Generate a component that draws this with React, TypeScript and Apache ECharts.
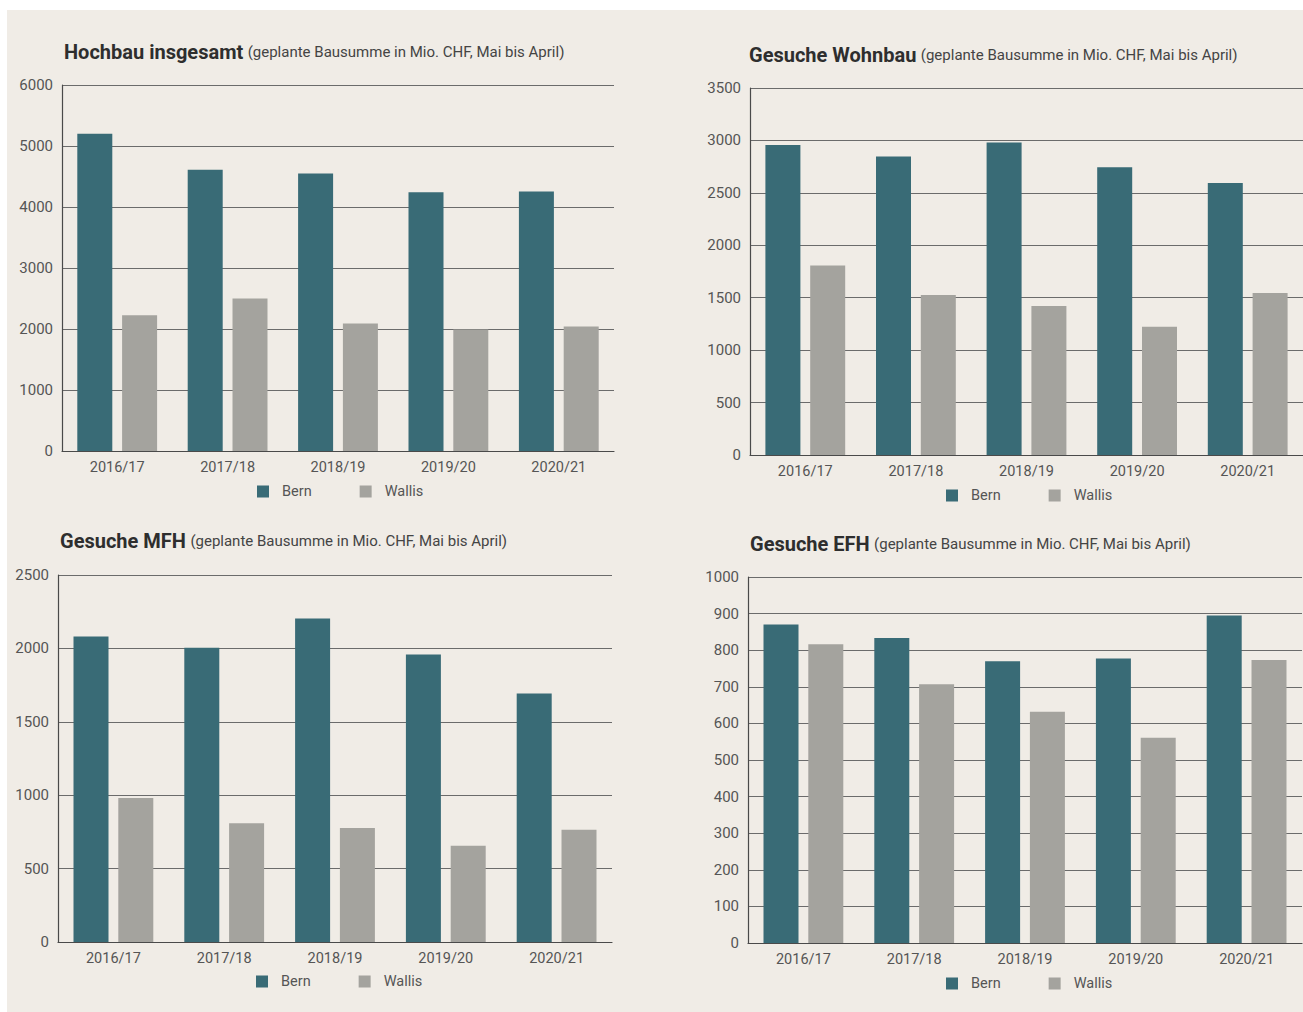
import React, { useEffect, useRef } from "react";
import * as echarts from "echarts";

const categories = ["2016/17", "2017/18", "2018/19", "2019/20", "2020/21"];
const seriesNames = ["Bern", "Wallis"];

const hochbauBern = [5200, 4610, 4550, 4240, 4255];
const hochbauWallis = [2225, 2500, 2090, 1990, 2040];
const wohnbauBern = [2957, 2846, 2980, 2745, 2595];
const wohnbauWallis = [1807, 1525, 1420, 1223, 1544];
const mfhBern = [2081, 2004, 2203, 1958, 1693];
const mfhWallis = [981, 809, 777, 655, 764];
const efhBern = [870, 833, 770, 777, 895];
const efhWallis = [816, 707, 632, 561, 773];

const boldTitles = ["Hochbau insgesamt", "Gesuche Wohnbau", "Gesuche MFH", "Gesuche EFH"];
const subTitle = "(geplante Bausumme in Mio. CHF, Mai bis April)";
const yMax = [6000, 3500, 2500, 1000];
const yInterval = [1000, 500, 500, 100];

const FONT = "Roboto, 'Liberation Sans', sans-serif";
const BERN = "#396b76";
const WALLIS = "#a4a39e";
const BG = "#f0ece6";

// panel layout: grid left, top, width, height; title pos; legend pos
const panels = [
  { left: 62, top: 85, width: 552, height: 366, tx: 64, ty: 42, lx: 257, ly: 484 },
  { left: 750, top: 88, width: 553, height: 367, tx: 749, ty: 45, lx: 946, ly: 488 },
  { left: 58, top: 575, width: 554, height: 367, tx: 60, ty: 531, lx: 256, ly: 974 },
  { left: 748, top: 577, width: 554, height: 366, tx: 750, ty: 534, lx: 946, ly: 976 },
];

const data = [
  [hochbauBern, hochbauWallis],
  [wohnbauBern, wohnbauWallis],
  [mfhBern, mfhWallis],
  [efhBern, efhWallis],
];

export default function App() {
  const ref = useRef<HTMLDivElement>(null);
  useEffect(() => {
    if (!ref.current) return;
    const chart = echarts.init(ref.current, undefined, { renderer: "svg" });
    const option: any = {
      animation: false,
      backgroundColor: "#ffffff",
      textStyle: { fontFamily: FONT },
      graphic: [
        { type: "rect", z: -10, silent: true, shape: { x: 7, y: 10, width: 1296, height: 1002 }, style: { fill: BG } },
      ],
      title: panels.map((p, i) => ({
        left: p.tx,
        top: p.ty,
        padding: 0,
        text: `{b|${boldTitles[i]}} {r|${subTitle}}`,
        textStyle: {
          fontFamily: FONT,
          rich: {
            b: { fontFamily: FONT, fontWeight: "bold", fontSize: 20, color: "#2e2e2e" },
            r: { fontFamily: FONT, fontWeight: "normal", fontSize: 15, color: "#444" },
          },
        },
      })),
      legend: panels.map((p) => ({
        left: p.lx,
        top: p.ly,
        padding: 0,
        data: seriesNames,
        icon: "rect",
        itemWidth: 12,
        itemHeight: 12,
        itemGap: 48,
        selectedMode: false,
        textStyle: { fontFamily: FONT, fontSize: 14.5, color: "#555", padding: [0, 0, 0, 8] },
      })),
      grid: panels.map((p) => ({ left: p.left, top: p.top, width: p.width, height: p.height, containLabel: false })),
      xAxis: panels.map((p, i) => ({
        type: "category",
        gridIndex: i,
        data: categories,
        axisTick: { show: false },
        axisLine: { show: true, lineStyle: { color: "#4a4a4a", width: 1.2 } },
        axisLabel: { fontFamily: FONT, fontSize: 14.5, color: "#555", margin: 9 },
      })),
      yAxis: panels.map((p, i) => ({
        type: "value",
        gridIndex: i,
        min: 0,
        max: yMax[i],
        interval: yInterval[i],
        axisTick: { show: false },
        axisLine: { show: true, lineStyle: { color: "#4a4a4a", width: 1.2 } },
        splitLine: { show: true, lineStyle: { color: "#6b6b6b", width: 1 } },
        axisLabel: { fontFamily: FONT, fontSize: 15, color: "#555", margin: 9, formatter: (v: number) => String(v) },
      })),
      series: data.flatMap((pair, i) =>
        pair.map((vals, j) => ({
          type: "bar",
          name: seriesNames[j],
          xAxisIndex: i,
          yAxisIndex: i,
          data: vals,
          barWidth: 35,
          barGap: "28%",
          itemStyle: { color: j === 0 ? BERN : WALLIS },
        }))
      ),
    };
    chart.setOption(option);
    return () => chart.dispose();
  }, []);
  return (
    <div
      ref={ref}
      style={{ position: "absolute", left: 0, top: 0, width: 1303, height: 1012 }}
    />
  );
}
